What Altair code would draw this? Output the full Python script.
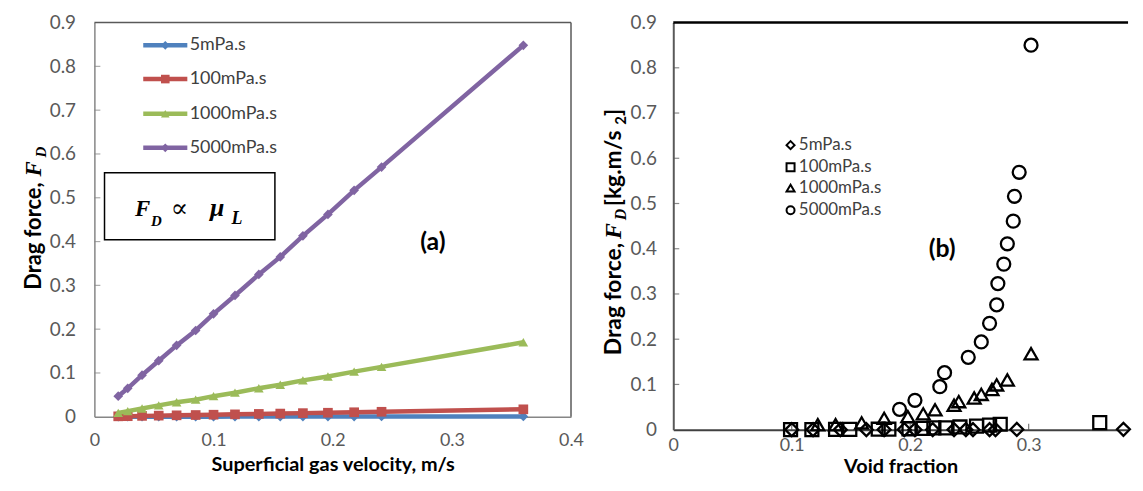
import altair as alt
import pandas as pd

# ---------------- data ----------------
SERIES = ["5mPa.s", "100mPa.s", "1000mPa.s", "5000mPa.s"]
COLORS = ["#4F81BD", "#C0504D", "#9BBB59", "#8064A2"]
SHAPES_A = ["diamond", "square", "triangle-up", "diamond"]
SHAPES_B = ["diamond", "square", "triangle-up", "circle"]

# panel (a): drag force vs superficial gas velocity
velocity = [0.02, 0.028, 0.04, 0.054, 0.069, 0.085, 0.10, 0.118, 0.138, 0.156,
            0.175, 0.196, 0.218, 0.241, 0.36]
drag_a_5 = [0.0000, 0.0001, 0.0001, 0.0001, 0.0002, 0.0002, 0.0002, 0.0003, 0.0003,
            0.0004, 0.0004, 0.0005, 0.0005, 0.0006, 0.0008]
drag_a_100 = [0.0010, 0.0013, 0.0020, 0.0026, 0.0033, 0.0040, 0.0047, 0.0055, 0.0065,
              0.0073, 0.0083, 0.0092, 0.0103, 0.0114, 0.0170]
drag_a_1000 = [0.009, 0.013, 0.019, 0.026, 0.033, 0.039, 0.047, 0.055, 0.065,
               0.073, 0.083, 0.092, 0.103, 0.114, 0.170]
drag_a_5000 = [0.047, 0.065, 0.095, 0.128, 0.163, 0.197, 0.235, 0.277, 0.325,
               0.365, 0.413, 0.462, 0.517, 0.570, 0.848]
DRAG_A = [drag_a_5, drag_a_100, drag_a_1000, drag_a_5000]

# panel (b): drag force vs void fraction
void_5 = [0.100, 0.118, 0.141, 0.163, 0.178, 0.195, 0.204, 0.219, 0.237, 0.247,
          0.253, 0.267, 0.272, 0.290, 0.380]
drag_b_5 = [0.0000, 0.0000, 0.0000, 0.0000, 0.0000, 0.0000, 0.0000, 0.0000, 0.0001,
            0.0001, 0.0001, 0.0001, 0.0001, 0.0005, 0.0008]
void_100 = [0.099, 0.117, 0.137, 0.149, 0.173, 0.182, 0.199, 0.211, 0.220, 0.230,
            0.242, 0.256, 0.267, 0.276, 0.360]
drag_b_100 = [0.0000, 0.0000, 0.0005, 0.0005, 0.0010, 0.0010, 0.0020, 0.0030, 0.0040,
              0.0040, 0.0060, 0.0080, 0.0100, 0.0120, 0.0155]
void_1000 = [0.122, 0.137, 0.159, 0.178, 0.198, 0.211, 0.221, 0.237, 0.241, 0.254,
             0.260, 0.269, 0.273, 0.282, 0.302]
drag_b_1000 = [0.011, 0.011, 0.015, 0.025, 0.029, 0.035, 0.044, 0.054, 0.062, 0.070,
               0.078, 0.089, 0.099, 0.110, 0.168]
void_5000 = [0.191, 0.204, 0.225, 0.229, 0.249, 0.260, 0.267, 0.273, 0.274, 0.279,
             0.282, 0.287, 0.288, 0.292, 0.302]
drag_b_5000 = [0.045, 0.065, 0.095, 0.126, 0.160, 0.194, 0.235, 0.276, 0.323, 0.366,
               0.411, 0.461, 0.516, 0.569, 0.850]
VOID_B = [void_5, void_100, void_1000, void_5000]
DRAG_B = [drag_b_5, drag_b_100, drag_b_1000, drag_b_5000]

Y_TICKS = [0, 0.1, 0.2, 0.3, 0.4, 0.5, 0.6, 0.7, 0.8, 0.9]
Y_INNER_TICKS = [0.1, 0.2, 0.3, 0.4, 0.5, 0.6, 0.7, 0.8]
XA_TICKS = [0, 0.1, 0.2, 0.3, 0.4]
XB_TICKS = [0, 0.1, 0.2, 0.3]
XB_INNER_TICKS = [0.1, 0.2, 0.3]

LEG_A_Y = [0.848, 0.771, 0.692, 0.614]
LEG_B_Y = [0.629, 0.580, 0.534, 0.485]

# ---------------- geometry / styling ----------------
FONT = "Lato"
SERIF = "Liberation Serif"
H = 410            # full plot height (panel b)
HA = 397           # panel (a) height
WA = 480           # panel (a) width
XB0 = 583          # left edge of panel (b) relative to panel (a)
WB = 458           # visible width of panel (b)
XB_MAX = 0.3839    # void fraction at the right edge of the picture

xa_scale = alt.Scale(domain=[0, 0.4], range=[0, WA], nice=False, zero=False)
ya_scale = alt.Scale(domain=[0, 0.9], range=[HA, 0], nice=False, zero=False)
xb_scale = alt.Scale(domain=[0, XB_MAX], range=[XB0, XB0 + WB], nice=False, zero=False)
yb_scale = alt.Scale(domain=[0, 0.9], range=[H, 0], nice=False, zero=False)


def axis(values, orient, offset, title, padding, title_pad, dom_color, dom_width,
         label_size=19):
    kw = dict(values=values, orient=orient, offset=offset, format=".1~f", grid=False,
              ticks=False, tickSize=0, labelFont=FONT, labelFontSize=label_size,
              labelColor="#595959", labelPadding=padding, labelFlush=False,
              labelOverlap=False, domainColor=dom_color, domainWidth=dom_width)
    if title:
        kw.update(title=title, titleFont=FONT, titleFontSize=20, titleFontWeight="bold",
                  titleColor="black", titlePadding=title_pad)
    else:
        kw.update(title=None)
    return alt.Axis(**kw)


xa_axis = axis(XA_TICKS, "bottom", HA - H, "Superficial gas velocity, m/s", 15, 5,
               "#868686", 1.5, 18)
ya_axis = axis(Y_TICKS, "left", 0, None, 19, 0, "#868686", 1.5)
xb_axis = axis(XB_TICKS, "bottom", 0, "Void fraction", 7, 2, "#404040", 2, 18)
yb_axis = axis(Y_TICKS, "left", -XB0, None, 17, 0, "#595959", 2)


def XA(f="x"):
    return alt.X(f"{f}:Q", scale=xa_scale, axis=xa_axis)


def YA(f="y"):
    return alt.Y(f"{f}:Q", scale=ya_scale, axis=ya_axis)


def XB(f="x"):
    return alt.X(f"{f}:Q", scale=xb_scale, axis=xb_axis)


def YB(f="y"):
    return alt.Y(f"{f}:Q", scale=yb_scale, axis=yb_axis)


def px_text(t, x, y, font, size, weight="normal", style="normal", angle=270,
            align="left", color="black"):
    return alt.Chart(pd.DataFrame({"t": [t]})).mark_text(
        font=font, fontSize=size, fontWeight=weight, fontStyle=style, angle=angle,
        align=align, baseline="alphabetic", color=color
    ).encode(x=alt.value(x), y=alt.value(y), text="t:N")


def px_rule(x, x2, y, y2, color, width):
    return alt.Chart(pd.DataFrame({"t": ["r"]})).mark_rule(
        color=color, strokeWidth=width).encode(
        x=alt.value(x), x2=alt.value(x2), y=alt.value(y), y2=alt.value(y2))


# ---------------- panel (a) ----------------
layers_a = []
for i in range(4):
    df = pd.DataFrame({"x": velocity, "y": DRAG_A[i]})
    base = alt.Chart(df).encode(x=XA(), y=YA())
    layers_a.append(base.mark_line(color=COLORS[i], strokeWidth=4.5))
    layers_a.append(base.mark_point(shape=SHAPES_A[i], filled=True, color=COLORS[i],
                                    size=95, opacity=1))

# frame (top and right) and inner y ticks
layers_a.append(px_rule(0, WA, 0, 0, "#595959", 1.5))
layers_a.append(px_rule(WA, WA, 0, HA, "#595959", 1.5))
layers_a.append(alt.Chart(pd.DataFrame({"y": Y_INNER_TICKS})).mark_tick(
    color="#868686", size=6, thickness=1.2).encode(y=YA(), x=alt.value(3)))

# legend (a)
leg_line = pd.DataFrame({"x": [0.041] * 4, "x2": [0.078] * 4, "y": LEG_A_Y, "c": COLORS})
leg_pt = pd.DataFrame({"x": [0.0595] * 4, "y": LEG_A_Y, "c": COLORS, "s": SHAPES_A})
leg_tx = pd.DataFrame({"x": [0.080] * 4, "y": LEG_A_Y, "t": SERIES})
layers_a.append(alt.Chart(leg_line).mark_rule(strokeWidth=4.5).encode(
    x=XA(), x2="x2:Q", y=YA(), color=alt.Color("c:N", scale=None)))
layers_a.append(alt.Chart(leg_pt).mark_point(filled=True, size=75, opacity=1).encode(
    x=XA(), y=YA(), color=alt.Color("c:N", scale=None), shape=alt.Shape("s:N", scale=None)))
layers_a.append(alt.Chart(leg_tx).mark_text(
    align="left", baseline="middle", font=FONT, fontSize=18, color="#404040").encode(
    x=XA(), y=YA(), text="t:N"))

# boxed relation F_D ∝ μ_L
box = pd.DataFrame({"x": [0.0085], "x2": [0.1515], "y": [0.557], "y2": [0.404]})
layers_a.append(alt.Chart(box).mark_rect(fill="white", stroke="black", strokeWidth=1.5).encode(
    x=XA(), x2="x2:Q", y=YA(), y2="y2:Q"))


def data_text(t, x, y, font, size, weight="normal", style="normal", align="left",
              baseline="alphabetic"):
    return alt.Chart(pd.DataFrame({"x": [x], "y": [y], "t": [t]})).mark_text(
        font=font, fontSize=size, fontWeight=weight, fontStyle=style, align=align,
        baseline=baseline, color="black").encode(x=XA(), y=YA(), text="t:N")


layers_a.append(data_text("F", 0.034, 0.459, SERIF, 23, "bold", "italic"))
layers_a.append(data_text("D", 0.0475, 0.436, SERIF, 15, "bold", "italic"))
layers_a.append(data_text("\u221d", 0.064, 0.456, "DejaVu Serif", 26))
layers_a.append(data_text("\u03bc", 0.097, 0.459, SERIF, 26, "bold", "italic"))
layers_a.append(data_text("L", 0.115, 0.440, SERIF, 18, "bold", "italic"))
layers_a.append(data_text("(a)", 0.284, 0.400, FONT, 25, "bold", "normal", "center", "middle"))

# y title (a)
layers_a.append(px_text("Drag force,", -54, 161, FONT, 22, "bold", align="right"))
layers_a.append(px_text("F", -54, 155, SERIF, 23, "bold", "italic"))
layers_a.append(px_text("D", -49, 136, SERIF, 15, "bold", "italic"))

# invisible anchor fixing the top-left corner of the drawing
layers_a.append(px_rule(-86, -85, -12, -12, "white", 1))

panel_a = alt.layer(*layers_a)

# ---------------- panel (b) ----------------
layers_b = []
layers_b.append(alt.Chart(pd.DataFrame({"y": Y_INNER_TICKS})).mark_tick(
    color="#595959", size=6, thickness=1.2).encode(y=YB(), x=alt.value(XB0 + 3)))
layers_b.append(alt.Chart(pd.DataFrame({"x": XB_INNER_TICKS})).mark_tick(
    color="#404040", size=6, thickness=1.2).encode(x=XB(), y=alt.value(H - 3)))
layers_b.append(px_rule(XB0, XB0 + WB, 0, 0, "black", 2.5))

for i in range(4):
    df = pd.DataFrame({"x": VOID_B[i], "y": DRAG_B[i]})
    layers_b.append(alt.Chart(df).mark_point(
        shape=SHAPES_B[i], filled=False, color="black", strokeWidth=2.3, size=170,
        opacity=1).encode(x=XB(), y=YB()))

leg_b_pt = pd.DataFrame({"x": [0.099] * 4, "y": LEG_B_Y, "s": SHAPES_B})
leg_b_tx = pd.DataFrame({"x": [0.106] * 4, "y": LEG_B_Y, "t": SERIES})
layers_b.append(alt.Chart(leg_b_pt).mark_point(
    filled=False, color="black", strokeWidth=2, size=65, opacity=1).encode(
    x=XB(), y=YB(), shape=alt.Shape("s:N", scale=None)))
layers_b.append(alt.Chart(leg_b_tx).mark_text(
    align="left", baseline="middle", font=FONT, fontSize=17, color="#404040").encode(
    x=XB(), y=YB(), text="t:N"))
layers_b.append(alt.Chart(pd.DataFrame({"x": [0.227], "y": [0.399], "t": ["(b)"]})).mark_text(
    font=FONT, fontSize=25, fontWeight="bold", align="center", baseline="middle",
    color="black").encode(x=XB(), y=YB(), text="t:N"))

# y title (b)
BX = XB0 - 53
layers_b.append(px_text("Drag force,", BX, 222, FONT, 23, "bold", align="right"))
layers_b.append(px_text("F", BX, 218, SERIF, 24, "bold", "italic"))
layers_b.append(px_text("D", BX + 5, 199, SERIF, 16, "bold", "italic"))
layers_b.append(px_text("[kg.m/s", BX, 185, FONT, 23, "bold"))
layers_b.append(px_text("2", BX + 5, 103, FONT, 15, "bold"))
layers_b.append(px_text("]", BX, 94, FONT, 23, "bold"))

panel_b = alt.layer(*layers_b)

chart = alt.layer(panel_a, panel_b).resolve_scale(
    x="independent", y="independent"
).properties(
    width=XB0 + WB, height=H,
    padding=0, background="white",
    view=alt.ViewBackground(stroke=None, fill="white"),
)

chart.save("out.html", embed_options={"renderer": "svg", "actions": False})
